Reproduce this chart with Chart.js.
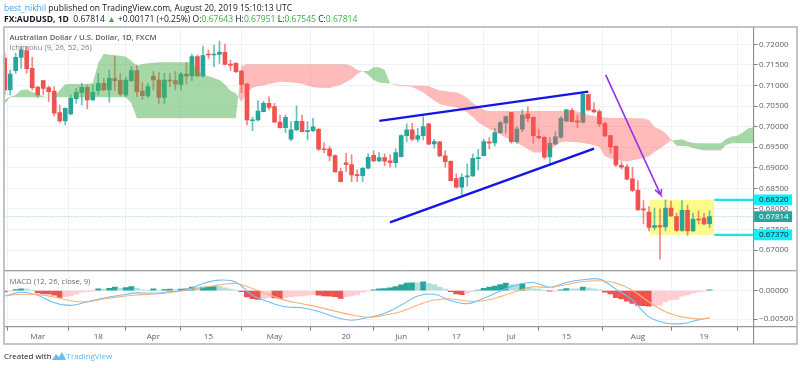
<!DOCTYPE html>
<html><head><meta charset="utf-8">
<script src="https://cdn.jsdelivr.net/npm/chart.js@4"></script>
<style>
html,body{margin:0;padding:0;background:#fff;width:800px;height:368px;overflow:hidden}
#wrap{position:absolute;left:0;top:0;width:800px;height:368px;filter:blur(.4px)}
#c{position:absolute;left:0;top:0;width:800px;height:368px}
.t{position:absolute;white-space:nowrap;font-family:"Open Sans",sans-serif;color:#131722;line-height:1}
.g{color:#3fae49}
</style></head><body>
<div id="wrap">
<canvas id="c" width="800" height="368"></canvas>
<div class="t" style="left:4px;top:4px;font-size:8.5px"><span style="color:#3ea6e6">best_nikhil</span> published on TradingView.com, August 20, 2019 15:10:13 UTC</div>
<div class="t" style="left:4px;top:15px;font-size:8.55px"><b>FX:AUDUSD, 1D</b>&nbsp; 0.67814 <span class="g">▲</span> +0.00171 (+0.25%) O:<span class="g">0.67643</span> H:<span class="g">0.67951</span> L:<span class="g">0.67545</span> C:<span class="g">0.67814</span></div>
<div class="t" style="left:9.5px;top:33.5px;font-size:7.7px;color:#5d606b;font-weight:600">Australian Dollar / U.S. Dollar, 1D, FXCM</div>
<div class="t" style="left:9.5px;top:44px;font-size:7.7px;color:#7d8089">Ichimoku (9, 26, 52, 26)</div>
<div class="t" style="left:9.5px;top:278px;font-size:7.7px;color:#6a6d78">MACD (12, 26, close, 9)</div>
<div class="t" style="left:4px;top:352px;font-size:8px">Created with</div>
<svg style="position:absolute;left:52px;top:351px" width="14" height="10" viewBox="0 0 14 10"><path d="M0 9 L4 3 L7 6 L10 1 L14 9 Z" fill="#3ea6e6" opacity=".75"/></svg>
<div class="t" style="left:66.5px;top:352px;font-size:8px;color:#5cb9ee">TradingView</div>
</div>
<script>
const tickIdx=[6,17,27,37,49,62,72,82,92,102,115,127];
const tickLabels=['Mar','18','Apr','15','May','20','Jun','17','Jul','15','Aug','19'];
const priceTicks=[0.67,0.675,0.68,0.685,0.69,0.695,0.70,0.705,0.71,0.715,0.72];
const macdTicks=[0,-0.005];
const opens=[.71658,.7089,.71359,.71683,.71845,.71416,.70963,.71116,.70947,.70866,.7034,.70138,.70307,.7068,.70825,.70955,.70647,.70874,.71052,.7089,.71165,.71125,.70769,.71116,.71359,.70866,.70744,.7123,.71133,.70712,.71133,.71116,.71028,.71278,.7123,.71699,.7123,.71764,.71739,.71756,.71804,.71521,.71537,.71351,.71036,.70146,.70162,.70364,.70566,
.70485,.70113,.69976,.69693,.69919,.70129,.69879,.69903,.69935,.69458,.69458,.69296,.68908,.69118,.69078,.68835,.68811,.68989,.69304,.69167,.69248,.69167,.69126,.69272,.69782,.69919,.69693,.69782,.70065,.69579,.69628,.69288,.69159,.68738,.68528,.68778,.68803,.69223,.69296,.69628,.69604,.69854,.70089,.7034,.69636,.69935,.70307,
.70227,.69765,.69741,.69264,.69579,.69741,.70138,.70396,.70138,.70105,.70777,.70405,.70364,.70073,.69782,.69523,.69062,.69021,.6873,.68455,.68002,.67921,.67549,.67597,.67565,.68018,.67816,.67476,.67969,.67468,.67751,.67775,.67643];
const highs=[.7178,.71375,.7178,.71942,.71942,.71683,.70975,.71125,.70987,.70971,.70526,.70455,.70769,.7093,.71052,.71011,.71011,.71294,.71173,.71375,.71715,.71294,.71197,.71456,.71497,.71068,.71052,.71335,.71311,.71294,.71294,.71335,.71319,.71553,.71764,.71739,.71958,.71861,.71982,.72079,.72006,.71618,.71553,.71375,.71052,.70227,.70631,.70623,.70728,
.70566,.70283,.70283,.70121,.70502,.70283,.70121,.70202,.6996,.69612,.69515,.69312,.68989,.69353,.69312,.68948,.69013,.69337,.69409,.69369,.69337,.69312,.69458,.69798,.70065,.70081,.6996,.70243,.70081,.69693,.69636,.69418,.69167,.68851,.68851,.69094,.69337,.6945,.69693,.69733,.6996,.70121,.70259,.70348,.7,.70405,.70485,
.70235,.69943,.69757,.69733,.69879,.70243,.70421,.70445,.70283,.70809,.70785,.70582,.70405,.70105,.6979,.69531,.6915,.69086,.69013,.68689,.68204,.68058,.68018,.68,.6822,.68188,.67897,.68204,.68091,.67897,.67953,.67897,.67951];
const lows=[.70769,.70769,.71294,.71416,.71294,.7089,.70712,.70769,.70607,.70259,.70097,.7004,.70283,.70566,.70526,.70429,.70631,.70769,.70874,.70591,.70874,.70744,.70728,.71092,.70728,.70663,.70712,.7089,.70566,.70566,.70971,.7089,.7089,.71052,.71116,.71214,.71197,.71658,.71456,.71537,.71497,.71359,.71311,.70825,.7004,.69903,.70138,.70355,.70405,
.70095,.6996,.69854,.69652,.69903,.6987,.69676,.69879,.69418,.69369,.69167,.68892,.68655,.68908,.68665,.68665,.68665,.68973,.69151,.69151,.69045,.69013,.69013,.69262,.69636,.6966,.69628,.69676,.69561,.69474,.69272,.69013,.68681,.68503,.68342,.68544,.68787,.68948,.69288,.69466,.69531,.69838,.69838,.69596,.69596,.69879,.70121,
.69596,.69701,.69215,.6911,.69555,.69717,.70113,.70113,.69976,.70081,.70396,.7034,.7,.69757,.69353,.69029,.68964,.68706,.68422,.67969,.67638,.67468,.67492,.6678,.67468,.67816,.67452,.67452,.67355,.67452,.67638,.67613,.67545];
const closes=[.7089,.71278,.71683,.71861,.71408,.70947,.70769,.7093,.70849,.70324,.70138,.70445,.70696,.70833,.70955,.70647,.70833,.71052,.7089,.71173,.71116,.70793,.71133,.71359,.70849,.70752,.70971,.71133,.70712,.71133,.71108,.71036,.71278,.7123,.71699,.7123,.71723,.71739,.71764,.71812,.71513,.71489,.71335,.71028,.70162,.70162,.7038,.70566,.70469,
.70105,.69976,.70227,.69919,.70129,.69879,.69903,.69992,.6945,.69442,.69288,.689,.68665,.69078,.68827,.68811,.68989,.69256,.69167,.69248,.69159,.69126,.69369,.69782,.69919,.69693,.69782,.7,.69571,.69636,.69288,.6915,.68689,.68528,.6877,.68803,.69231,.69248,.69636,.69596,.69854,.70097,.70243,.69636,.69943,.70283,.70202,
.69782,.69725,.69256,.69596,.69749,.70202,.70405,.70121,.70105,.70785,.70405,.70356,.70065,.69773,.69507,.6907,.69013,.68722,.68447,.67977,.67977,.67549,.67597,.67565,.68018,.67832,.67476,.67969,.67468,.67751,.67735,.67638,.67814];
const spanA=[.70648,.70728,.70769,.70891,.70903,.70842,.70794,.70733,.70714,.70714,.70891,.71029,.71036,.71036,.71036,.71036,.71061,.71546,.71764,.71747,.71733,.71723,.71699,.71602,.71473,.71522,.71539,.71553,.71563,.71563,.71563,.71563,.71563,.71563,.71563,.71376,.71255,.7123,.71182,.71133,.71024,.70874,.70806,
.70599,.70842,.70939,.70988,.71,.71036,.71061,.71092,.71085,.71073,.71061,.71036,.71,.70956,.70947,.70939,.70939,.70988,.71012,.71085,.71158,.71279,.71352,.71352,.71442,.71442,.71376,.71048,.71012,.70983,.70978,.70964,.70903,.7083,.70733,.70636,.70551,.70515,.7049,.70471,.70417,.70345,.70235,.70102,.7002,.69944,.69884,.69811,.69738,.69665,.69597,.69532,.69459,.69374,.69369,.69379,.69459,.69532,.69617,.69636,.69629,.69617,.69604,.6958,.69556,.69507,.69277,.69228,.69204,.69168,.69151,.6918,.69209,.6924,.69277,.69386,.69471,.69568,.69665,
.69677,.69694,.69641,.69604,.69597,.69597,.69597,.69597,.69597,.69701,.69762,.69774,.69859,.69956,.69985];
const spanB=[.70551,.70714,.70714,.70714,.70714,.70714,.70714,.70714,.70714,.70714,.70714,.70714,.70714,.70714,.70714,.70714,.70714,.70714,.70714,.70714,.70714,.70714,.70714,.70568,.70204,.70204,.70204,.70204,.70204,.70204,.70204,.70204,.70204,.70204,.70204,.70204,.70204,.70204,.70204,.70204,.70204,.70204,.70204,
.71473,.71514,.71514,.71514,.71514,.71514,.71514,.71514,.71514,.71514,.71514,.71514,.71514,.71514,.71514,.71514,.71514,.71514,.71514,.71514,.71473,.71376,.71352,.71255,.71133,.71073,.71053,.71048,.71036,.71005,.70997,.70995,.70995,.70988,.70988,.70927,.70879,.70866,.70842,.70837,.70781,.70697,.70575,.7049,.70405,.70381,.70381,.70381,.70381,.70381,.70381,.70381,.70381,.70381,.70381,.70381,.70381,.70381,.70388,.70388,.70388,.70369,.70332,.70284,.7026,.70235,.70223,.70211,.70211,.70211,.70211,.70206,.70204,.70199,.70163,.69993,.69932,.69847,.69689,
.69532,.69527,.6952,.69483,.69447,.69418,.69418,.69418,.69418,.69556,.69597,.69597,.69597,.69597,.69597];
const histogram=[-.00024,-.00006,.00018,.00029,.00029,0,-.00041,-.00053,-.00059,-.00082,-.00118,-.00106,-.00094,-.00065,-.00029,-.00018,-.00006,.00029,.00024,.00041,.00059,.00041,.00053,.00071,.00041,.00012,.00006,.00029,.00006,.00018,.00024,.00012,.00024,.00029,.00059,.00053,.00059,.00065,.00071,.00068,.00047,.00024,.00006,-.00018,-.00112,-.00141,-.00153,-.00135,-.00118,-.0013,-.00141,-.00118,-.00106,-.001,-.00094,-.00082,-.00071,-.00082,-.00094,-.001,-.00106,-.00135,-.00106,-.00094,-.00077,-.00029,-.00012,.00012,.00029,.00035,.00047,.00071,.001,.0013,.00135,.00135,.00153,.00124,.00106,.00059,.00024,-.00018,-.00059,-.00071,-.00047,-.00018,.00006,.00041,.00059,.00077,.00106,.0013,.00106,.00088,.00118,.00059,.00029,.00026,0,-.00006,-.00004,.00012,.00035,.00032,.00029,.00059,.00047,.00029,.00012,-.00029,-.00059,-.00124,-.00147,-.00183,-.00224,-.00259,-.00265,-.00271,-.00268,-.00253,-.002,-.00165,-.00153,-.001,-.00077,-.00047,-.00024,-.00006,.00012];
const lineIdx=[0,3,6,9,12,15,18,21,24,27,30,33,36,39,42,45,48,51,54,57,60,63,66,69,72,75,78,81,84,87,90,93,96,99,102,105,108,111,114,117,120,123,126,128];
const macdLine=[-.00094,-.00029,-.00082,-.00212,-.00259,-.00194,-.0013,-.00082,-.00041,-.00047,-.00018,.00012,.00124,.00183,.00147,-.00082,-.002,-.00283,-.003,-.00365,-.00465,-.00518,-.00471,-.00395,-.00253,-.00094,-.00065,-.00177,-.0023,-.00135,-.00006,.001,.00141,.00059,.00141,.00188,.002,.00024,-.00165,-.00459,-.00565,-.00577,-.00512,-.00477];
const signalLine=[-.00088,-.00065,-.00071,-.00112,-.00177,-.00197,-.00147,-.00106,-.00077,-.00059,-.00038,.00006,.00053,.001,.00124,.00035,-.00071,-.00171,-.0023,-.00289,-.00359,-.00424,-.00465,-.0043,-.00365,-.00253,-.00165,-.00147,-.00183,-.00177,-.00106,-.00012,.00065,.00053,.00106,.00159,.00171,.0013,.00006,-.002,-.00371,-.00459,-.00495,-.00483];
const lastClose=.67814, boxHigh=.6822, boxLow=.6737;
const boxFrom=117.05, boxTo=128.86, lastIdx=136;
const trendUpper=[[68.03,.70138],[105.98,.70849]];
const trendLower=[[69.97,.67675],[107.02,.69466]];
const arrowPath=[[109.14,.71255],[119.13,.68342],[118.1,.68464],[119.13,.68342],[119.3,.68488]];

const UP='#26a69a',DOWN='#ef5350',UP2='#b2dfdb',DOWN2='#ffcdd2';
const candleColors=opens.map((o,i)=>closes[i]>=o?UP:DOWN);
const wickColors=opens.map((o,i)=>closes[i]>=o?'rgba(38,166,154,.7)':'rgba(239,83,80,.7)');
const histColors=histogram.map((v,i)=>{const p=i?histogram[i-1]:0;return v>=0?(v>p?UP:UP2):(v<p?DOWN:DOWN2);});
const pts=a=>a.map(p=>({x:p[0],y:p[1]}));
const lineDs=(data,color,width,order,extra)=>Object.assign({type:'line',data:pts(data),yAxisID:'price',borderColor:color,borderWidth:width,pointRadius:0,tension:0,fill:false,order},extra||{});

const datasets=[
 lineDs([[boxFrom,boxHigh],[boxTo,boxHigh]],'rgba(0,0,0,0)',0,100,{fill:{value:boxLow},backgroundColor:'#fffb8a'}),
 lineDs([[0,lastClose],[lastIdx,lastClose]],'rgba(38,166,154,.55)',1,90,{borderDash:[1,2]}),
 {type:'bar',grouped:false,yAxisID:'price',order:60,barThickness:1,backgroundColor:wickColors,data:lows.map((l,i)=>({x:i,y:[l,highs[i]]}))},
 {type:'bar',grouped:false,yAxisID:'price',order:59,barThickness:4,backgroundColor:candleColors,data:opens.map((o,i)=>({x:i,y:[o,closes[i]]}))},
 {type:'line',yAxisID:'price',order:40,pointRadius:0,borderWidth:0,tension:0,data:spanA.map((y,i)=>({x:i,y})),fill:{target:5,above:'rgba(76,175,80,.5)',below:'rgba(255,82,82,.4)'}},
 {type:'line',yAxisID:'price',order:41,pointRadius:0,borderWidth:0,tension:0,data:spanB.map((y,i)=>({x:i,y})),fill:false},
 lineDs(trendUpper,'#1414e6',2.4,10),
 lineDs(trendLower,'#1414e6',2.4,10),
 lineDs(arrowPath,'#9a30e8',1.6,10),
 lineDs([[boxTo,boxHigh],[lastIdx,boxHigh]],'#19e3ee',2.2,10),
 lineDs([[boxTo,boxLow],[lastIdx,boxLow]],'#19e3ee',2.2,10),
 {type:'bar',grouped:false,yAxisID:'macd',order:30,barThickness:5.2,backgroundColor:histColors,data:histogram.map((y,i)=>({x:i,y}))},
 {type:'line',yAxisID:'macd',order:21,borderColor:'#72bff5',borderWidth:1.1,pointRadius:0,tension:.35,fill:false,data:lineIdx.map((x,i)=>({x,y:macdLine[i]}))},
 {type:'line',yAxisID:'macd',order:20,borderColor:'#f8b27e',borderWidth:1.1,pointRadius:0,tension:.35,fill:false,data:lineIdx.map((x,i)=>({x,y:signalLine[i]}))}
];

const FONT='"Open Sans",sans-serif', GRID='#eef1f5', AXIS='#7f828c';
const frame={id:'frame',afterDraw(ch){
  const c=ch.ctx,a=ch.chartArea,py=ch.scales.price;
  c.save();c.strokeStyle=AXIS;c.lineWidth=1;
  const sep=py.bottom;
  c.beginPath();
  c.moveTo(4,sep);c.lineTo(a.right+43,sep);
  c.moveTo(4,a.bottom);c.lineTo(a.right+43,a.bottom);
  c.moveTo(a.right,27);c.lineTo(a.right,344);
  c.stroke();
  c.strokeStyle='#a9acb3';c.lineWidth=1.4;c.strokeRect(4,27,793,317);
  const tag=(v,bg,fg)=>{const y=py.getPixelForValue(v);c.fillStyle=bg;c.fillRect(a.right+.5,y-5.4,38,10.8);c.fillStyle=fg;c.font='8px '+FONT;c.textBaseline='middle';c.textAlign='left';c.fillText(v.toFixed(5),a.right+5.5,y+.3);};
  tag(lastClose,UP,'#ffffff');tag(boxHigh,'#12eef6','#131722');tag(boxLow,'#12eef6','#131722');
  c.restore();
}};

new Chart(document.getElementById('c'),{
 data:{datasets},
 plugins:[frame],
 options:{responsive:false,animation:false,devicePixelRatio:1,
  layout:{padding:{left:4.67,top:27,right:3.38,bottom:24}},
  plugins:{legend:{display:false},tooltip:{enabled:false}},
  elements:{bar:{borderWidth:0}},
  scales:{
   x:{type:'linear',min:0,max:lastIdx,offset:false,
      afterBuildTicks(s){s.ticks=tickIdx.map(value=>({value}));},
      afterFit(s){s.height=17.3;},
      grid:{color:GRID,tickColor:AXIS,tickLength:4,drawOnChartArea:true},border:{display:false},
      ticks:{autoSkip:false,maxRotation:0,padding:1,color:'#5d606b',font:{family:FONT,size:8},callback:v=>tickLabels[tickIdx.indexOf(v)]}},
   price:{type:'linear',position:'right',stack:'panes',stackWeight:244,min:.66498,max:.7242,
      afterBuildTicks(s){s.ticks=priceTicks.map(value=>({value}));},
      afterFit(s){s.width=43;},
      grid:{color:GRID,tickColor:AXIS,tickLength:4},border:{display:false},
      ticks:{autoSkip:false,padding:1.5,color:'#5d606b',font:{family:FONT,size:8},callback:v=>v.toFixed(5)}},
   macd:{type:'linear',position:'right',stack:'panes',stackWeight:56,min:-.00631,max:.00346,
      afterBuildTicks(s){s.ticks=macdTicks.map(value=>({value}));},
      afterFit(s){s.width=43;},
      grid:{color:GRID,tickColor:AXIS,tickLength:4},border:{display:false},
      ticks:{autoSkip:false,padding:1.5,color:'#5d606b',font:{family:FONT,size:8},callback:v=>(v<0?'\u2212':'')+Math.abs(v).toFixed(5)}}
  }
 }
});
</script>
</body></html>
